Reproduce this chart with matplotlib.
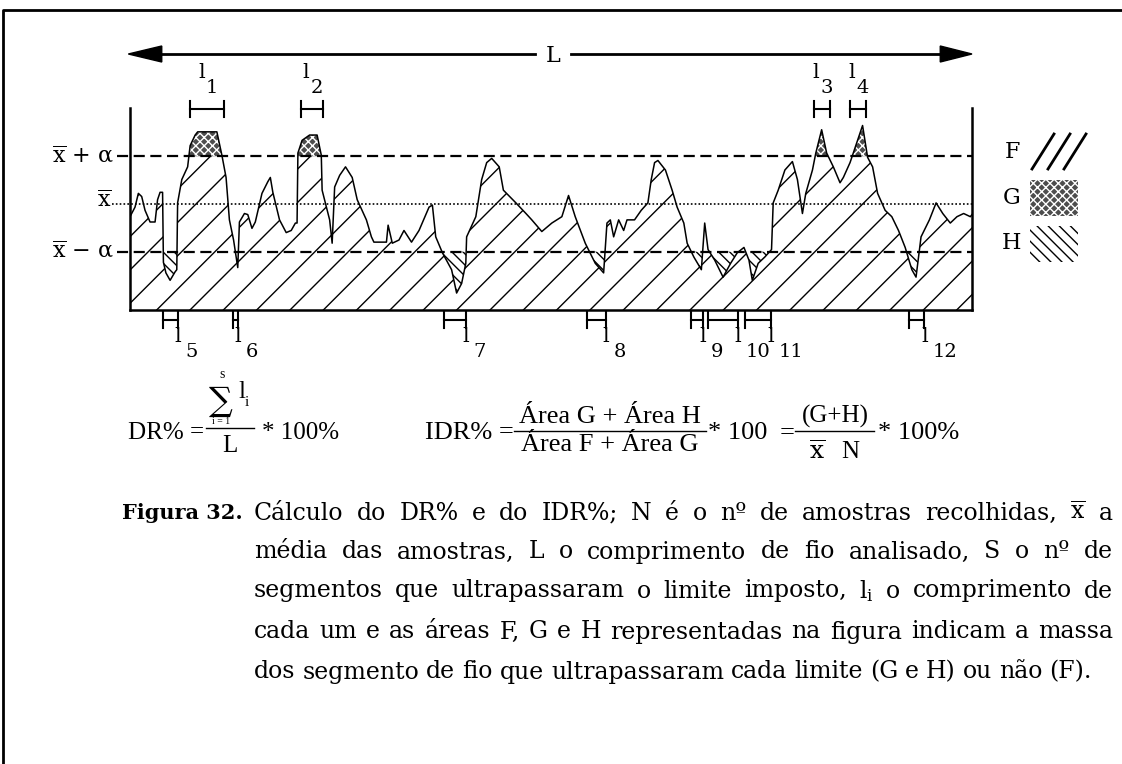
import numpy as np
import matplotlib
matplotlib.use('Agg')
import matplotlib.pyplot as plt
from matplotlib.patches import Rectangle
from matplotlib.transforms import blended_transform_factory

plt.rcParams['mathtext.fontset'] = 'dejavuserif'
plt.rcParams['hatch.linewidth'] = 1.0

# massa do fio ao longo do comprimento analisado (posicao em % de L)
pos = [0.0, 0.6, 1.0, 1.4, 1.8, 2.4, 3.0, 3.3, 3.6, 3.9, 4.0, 4.3, 4.8, 5.4, 5.6, 5.7,
       6.2, 6.9, 7.2, 7.8, 8.1, 10.4, 11.0, 11.5, 11.9, 12.4, 12.9, 13.1, 13.7, 14.1,
       14.6, 15.0, 15.8, 16.5, 16.8, 17.1, 17.9, 18.7, 19.3, 19.8, 20.0, 20.1, 20.6,
       21.5, 22.4, 22.9, 23.0, 23.9, 24.2, 24.5, 25.1, 25.8, 26.6, 27.2, 28.3, 28.9,
       29.2, 30.7, 30.9, 31.4, 32.2, 32.8, 33.7, 34.6, 35.8, 36.2, 36.6, 37.4, 38.5,
       39.1, 39.7, 40.2, 40.3, 41.4, 42.1, 42.7, 43.3, 44.2, 44.7, 46.2, 47.4, 48.1,
       49.3, 50.5, 51.7, 52.5, 53.3, 54.5, 55.7, 56.7, 57.1, 57.5, 57.9, 58.5, 59.1,
       59.5, 60.4, 61.2, 62.0, 62.4, 62.8, 63.2, 64.1, 64.9, 65.5, 66.3, 66.7, 67.5,
       68.4, 68.8, 69.2, 70.0, 71.0, 71.9, 72.7, 73.5, 74.1, 74.5, 75.2, 76.0, 76.8,
       77.0, 77.6, 78.4, 79.3, 79.9, 80.5, 80.9, 81.7, 82.1, 82.8, 83.4, 84.2, 85.0,
       85.4, 86.2, 87.1, 87.7, 88.3, 88.9, 89.5, 90.4, 91.2, 92.0, 92.8, 93.6, 94.1,
       94.7, 95.7, 96.5, 97.3, 98.2, 99.0, 99.8, 100.6, 100.8]
massa = [88, 97, 110, 107, 94, 83, 83, 104, 111, 111, 45, 35, 28, 36, 38, 101,
         123, 135, 155, 165, 168, 168, 146, 125, 85, 66, 40, 83, 91, 90,
         77, 83, 110, 121, 125, 111, 85, 73, 75, 82, 82, 148, 160,
         165, 165, 146, 113, 85, 63, 116, 127, 135, 125, 104, 85, 69,
         64, 64, 80, 63, 66, 75, 64, 75, 97, 99, 69, 54, 38,
         16, 25, 44, 69, 88, 123, 139, 143, 135, 113, 101, 91, 85,
         74, 82, 88, 108, 88, 63, 44, 35, 82, 85, 69, 85, 75,
         85, 85, 94, 101, 123, 139, 141, 132, 113, 97, 82, 63, 50,
         38, 82, 57, 47, 31, 44, 54, 59, 47, 28, 44, 50, 57,
         101, 113, 132, 140, 123, 91, 110, 132, 148, 170, 148, 135, 120,
         125, 139, 160, 174, 144, 135, 110, 94, 88, 75, 59, 38, 31,
         69, 85, 101, 91, 82, 88, 91, 88, 90]
media = 100
alfa = 45

# segmentos que ultrapassam os limites (inicio, fim) em % de L
seg_acima = [(7.2, 11.3), (20.5, 23.1), (81.9, 83.8), (86.2, 88.1)]
nomes_acima = ['1', '2', '3', '4']
seg_abaixo = [(3.9, 5.7), (12.3, 12.9), (37.6, 40.2), (54.7, 57.0),
              (67.2, 68.6), (69.2, 72.8), (73.6, 76.7), (93.3, 95.1)]
nomes_abaixo = ['5', '6', '7', '8', '9', '10', '11', '12']

legenda = ['F', 'G', 'H']

W, H = 1122, 764
fig = plt.figure(figsize=(W / 100, H / 100), dpi=100)
xa, xb, ybase, ytop = 130, 972, 310, 108
ax = fig.add_axes([xa / W, 1 - ybase / H, (xb - xa) / W, (ybase - ytop) / H])
ov = fig.add_axes([0, 0, 1, 1], zorder=5)
ov.set_xlim(0, W)
ov.set_ylim(H, 0)
ov.axis('off')

x = np.array(pos)
y = np.array(massa, dtype=float)
sup = media + alfa
inf = media - alfa

ax.fill_between(x, 0, np.minimum(y, sup), facecolor='none', edgecolor='black', hatch='/', lw=0)
ax.fill_between(x, sup, y, where=y > sup, interpolate=True,
                facecolor='0.3', edgecolor='white', hatch='xxxx', lw=0)
ax.fill_between(x, y, inf, where=y < inf, interpolate=True,
                facecolor='none', edgecolor='black', hatch='\\\\\\', lw=0)
ax.plot(x, y, color='black', lw=1.1)
ax.set_xlim(0, 100.8)
ax.set_ylim(0, 190.5)
ax.set_xticks([])
ax.set_yticks([])
ax.spines['top'].set_visible(False)
for s in ['left', 'right', 'bottom']:
    ax.spines[s].set_linewidth(1.8)

# linhas de referencia
ax.plot([-1.6, 100.8], [sup, sup], color='black', lw=1.6, ls=(0, (5, 2.5)), clip_on=False)
ax.plot([-1.6, 100.8], [inf, inf], color='black', lw=1.6, ls=(0, (5, 2.5)), clip_on=False)
ax.plot([-2.1, 100.8], [media, media], color='black', lw=1.2, ls=(0, (1, 1.3)), clip_on=False)

ty = blended_transform_factory(ov.transData, ax.transData)
tx = blended_transform_factory(ax.transData, ov.transData)
serif = 'DejaVu Serif'
ov.text(114, sup, r'$\overline{\mathrm{x}}$ + α', transform=ty, ha='right', va='center',
        fontsize=16, family=serif)
ov.text(112, media + 3, r'$\overline{\mathrm{x}}$', transform=ty, ha='right', va='center',
        fontsize=16, family=serif)
ov.text(114, inf, r'$\overline{\mathrm{x}}$ − α', transform=ty, ha='right', va='center',
        fontsize=16, family=serif)

# seta L
xm = 100.8
ov.plot([3.5, 48.5], [54, 54], transform=tx, color='black', lw=2)
ov.plot([52.8, xm - 3.5], [54, 54], transform=tx, color='black', lw=2)
ov.fill([-0.2, 3.8, 3.8], [54, 46, 62], transform=tx, color='black')
ov.fill([xm, xm - 3.8, xm - 3.8], [54, 46, 62], transform=tx, color='black')
ov.text(50.6, 56, 'L', transform=tx, ha='center', va='center', fontsize=16, family=serif)

# marcadores dos segmentos
def marca(a, b, yb, h):
    ov.plot([a, b], [yb, yb], transform=tx, color='black', lw=1.5)
    ov.plot([a, a], [yb - h, yb + h], transform=tx, color='black', lw=1.5)
    ov.plot([b, b], [yb - h, yb + h], transform=tx, color='black', lw=1.5)

for (a, b), n in zip(seg_acima, nomes_acima):
    marca(a, b, 109, 8)
    c = (a + b) / 2
    ov.annotate('l', xy=(c, 72), xycoords=tx, xytext=(-6, 0), textcoords='offset pixels',
                ha='center', va='center', fontsize=15, family=serif)
    ov.annotate(n, xy=(c, 88), xycoords=tx, xytext=(5, 0), textcoords='offset pixels',
                ha='center', va='center', fontsize=14, family=serif)

for (a, b), n in zip(seg_abaixo, nomes_abaixo):
    marca(a, b, 320, 8)
    ov.annotate('l', xy=(b, 337), xycoords=tx, xytext=(0, 0), textcoords='offset pixels',
                ha='center', va='center', fontsize=15, family=serif)
    ov.annotate(n, xy=(b, 352), xycoords=tx, xytext=(8, 0), textcoords='offset pixels',
                ha='left', va='center', fontsize=14, family=serif)

# legenda das areas
ov.text(1012, 152, legenda[0], ha='center', va='center', fontsize=16, family=serif)
ov.text(1012, 198, legenda[1], ha='center', va='center', fontsize=16, family=serif)
ov.text(1012, 243, legenda[2], ha='center', va='center', fontsize=16, family=serif)
for k in range(3):
    ov.plot([1032 + 16 * k, 1054 + 16 * k], [169, 134], color='black', lw=2)
ov.add_patch(Rectangle((1030, 180), 48, 36, facecolor='0.3', edgecolor='white', hatch='xxxx', lw=0))
ov.add_patch(Rectangle((1030, 226), 48, 36, facecolor='none', edgecolor='black', hatch='\\\\\\', lw=0))

# moldura
ov.plot([3, 3, W], [H, 10, 10], color='black', lw=2)

# formulas
fml = 'Liberation Serif'
fs = 18
ov.text(128, 433, 'DR% =', ha='left', va='center', fontsize=fs, family=fml)
ov.text(221, 402, r'$\sum$', ha='center', va='center', fontsize=17)
ov.text(222, 375, 's', ha='center', va='center', fontsize=10, family=fml)
ov.text(221, 422, 'i = 1', ha='center', va='center', fontsize=7, family=fml)
ov.text(238, 392, 'l', ha='left', va='center', fontsize=fs, family=fml)
ov.text(245, 402, 'i', ha='left', va='center', fontsize=11, family=fml)
ov.plot([206, 254], [428, 428], color='black', lw=1)
ov.text(230, 446, 'L', ha='center', va='center', fontsize=fs, family=fml)
ov.text(262, 433, '* 100%', ha='left', va='center', fontsize=fs, family=fml)

fi = 19
ov.text(425, 433, 'IDR% =', ha='left', va='center', fontsize=fi, family=fml)
ov.text(610, 417, 'Área G + Área H', ha='center', va='center', fontsize=fi, family=fml)
ov.plot([514, 706], [431, 431], color='black', lw=1)
ov.text(610, 445, 'Área F + Área G', ha='center', va='center', fontsize=fi, family=fml)
ov.text(708, 433, '* 100', ha='left', va='center', fontsize=fi, family=fml)
ov.text(780, 433, '=', ha='left', va='center', fontsize=fi, family=fml)
ov.text(835, 416, '(G+H)', ha='center', va='center', fontsize=fi - 1, family=fml)
ov.plot([795, 874], [431, 431], color='black', lw=1)
ov.text(835, 452, r'$\overline{\mathrm{x}}$   N', ha='center', va='center', fontsize=fi - 1, family=fml)
ov.text(878, 433, '* 100%', ha='left', va='center', fontsize=fi, family=fml)

# legenda da figura, justificada
cap = 'DejaVu Serif'
linhas = [
    'Cálculo do DR% e do IDR%; N é o nº de amostras recolhidas, $\\overline{\\mathrm{x}}$ a',
    'média das amostras, L o comprimento de fio analisado, S o nº de',
    'segmentos que ultrapassaram o limite imposto, $\\mathrm{l_i}$ o comprimento de',
    'cada um e as áreas F, G e H representadas na figura indicam a massa',
    'dos segmento de fio que ultrapassaram cada limite (G e H) ou não (F).',
]
ylin = [513, 552, 591, 632, 672]
x_corpo = 254
ov.text(122, ylin[0], 'Figura 32.', ha='left', va='center', fontsize=15, family=cap, weight='bold')
r = fig.canvas.get_renderer()
for i, txt in enumerate(linhas):
    pal = txt.split(' ')
    objs = [ov.text(0, ylin[i], p, ha='left', va='center', fontsize=17, family=cap) for p in pal]
    larg = [o.get_window_extent(renderer=r).width for o in objs]
    if i < len(linhas) - 1:
        gap = (1113 - x_corpo - sum(larg)) / (len(pal) - 1)
    else:
        gap = 7
    xc = x_corpo
    for o, w in zip(objs, larg):
        o.set_x(xc)
        xc += w + gap

fig.savefig('out.png', dpi=100)
